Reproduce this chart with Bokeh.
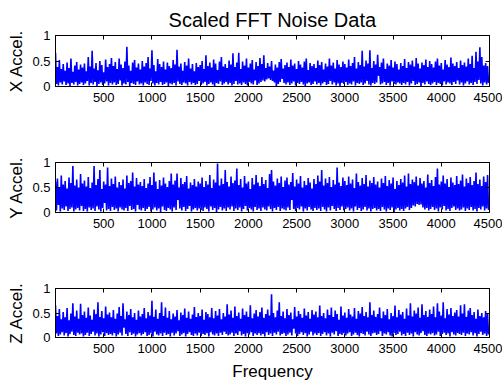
import numpy as np
from bokeh.plotting import figure
from bokeh.layouts import column
from bokeh.models import LinearAxis, FixedTicker, Range1d
from bokeh.embed import file_html
from bokeh.resources import INLINE

# Frequency bins (Hz): one peak/trough pair of the scaled FFT magnitude per 20 Hz bin
freq = np.arange(0, 4500, 20)

# X axis accelerometer: per-bin maximum and minimum of the scaled FFT magnitude
x_peak = [
    0.66, 0.38, 0.52, 0.34, 0.44, 0.31, 0.47, 0.36, 0.55, 0.29, 0.41, 0.48, 0.33, 0.43, 0.37,
    0.45, 0.30, 0.58, 0.39, 0.70, 0.35, 0.46, 0.32, 0.50, 0.42, 0.28, 0.53, 0.38, 0.44, 0.56,
    0.40, 0.48, 0.34, 0.55, 0.43, 0.36, 0.49, 0.78, 0.41, 0.31, 0.47, 0.52, 0.37, 0.45, 0.33,
    0.50, 0.39, 0.46, 0.58, 0.35, 0.71, 0.42, 0.30, 0.54, 0.44, 0.38, 0.49, 0.33, 0.47, 0.40,
    0.36, 0.52, 0.43, 0.72, 0.39, 0.45, 0.31, 0.48, 0.41, 0.55, 0.35, 0.44, 0.30, 0.46, 0.38,
    0.42, 0.50, 0.34, 0.61, 0.40, 0.47, 0.37, 0.53, 0.45, 0.32, 0.49, 0.58, 0.39, 0.44, 0.36,
    0.51, 0.43, 0.65, 0.38, 0.47, 0.66, 0.34, 0.49, 0.41, 0.55, 0.37, 0.45, 0.52, 0.33, 0.48,
    0.40, 0.56, 0.44, 0.61, 0.36, 0.46, 0.39, 0.50, 0.31, 0.43, 0.37, 0.48, 0.54, 0.35, 0.42,
    0.47, 0.38, 0.53, 0.41, 0.45, 0.34, 0.50, 0.43, 0.37, 0.49, 0.55, 0.32, 0.46, 0.40, 0.44,
    0.36, 0.51, 0.42, 0.48, 0.33, 0.45, 0.39, 0.55, 0.41, 0.47, 0.35, 0.52, 0.43, 0.38, 0.49,
    0.44, 0.37, 0.53, 0.40, 0.46, 0.58, 0.35, 0.48, 0.42, 0.70, 0.39, 0.51, 0.45, 0.71, 0.36,
    0.50, 0.43, 0.62, 0.38, 0.47, 0.55, 0.34, 0.45, 0.41, 0.52, 0.37, 0.49, 0.44, 0.33, 0.46,
    0.40, 0.54, 0.36, 0.48, 0.43, 0.51, 0.39, 0.56, 0.45, 0.35, 0.47, 0.42, 0.53, 0.38, 0.50,
    0.44, 0.37, 0.49, 0.55, 0.41, 0.46, 0.33, 0.52, 0.43, 0.38, 0.57, 0.45, 0.40, 0.48, 0.36,
    0.51, 0.42, 0.47, 0.39, 0.55, 0.44, 0.60, 0.36, 0.68, 0.49, 0.77, 0.58, 0.41, 0.46, 0.40,
]
x_trough = [
    0.05, 0.02, 0.08, 0.04, 0.10, 0.03, 0.06, 0.01, 0.07, 0.04, 0.09, 0.02, 0.05, 0.08, 0.03,
    0.06, 0.11, 0.02, 0.07, 0.04, 0.09, 0.01, 0.05, 0.08, 0.03, 0.06, 0.10, 0.02, 0.07, 0.04,
    0.08, 0.03, 0.05, 0.12, 0.02, 0.06, 0.04, 0.09, 0.01, 0.07, 0.05, 0.03, 0.10, 0.04, 0.06,
    0.02, 0.08, 0.05, 0.03, 0.11, 0.06, 0.02, 0.07, 0.04, 0.09, 0.03, 0.05, 0.08, 0.01, 0.06,
    0.04, 0.07, 0.02, 0.10, 0.05, 0.03, 0.08, 0.06, 0.02, 0.09, 0.04, 0.07, 0.03, 0.05, 0.11,
    0.03, 0.06, 0.09, 0.02, 0.05, 0.08, 0.04, 0.01, 0.07, 0.05, 0.10, 0.03, 0.06, 0.09, 0.04,
    0.07, 0.02, 0.05, 0.11, 0.04, 0.06, 0.03, 0.08, 0.05, 0.02, 0.09, 0.06, 0.04, 0.12, 0.03,
    0.06, 0.09, 0.12, 0.10, 0.14, 0.16, 0.13, 0.11, 0.08, 0.00, 0.05, 0.09, 0.15, 0.07, 0.04,
    0.08, 0.03, 0.06, 0.10, 0.02, 0.07, 0.05, 0.09, 0.04, 0.01, 0.06, 0.08, 0.03, 0.05, 0.10,
    0.04, 0.07, 0.02, 0.06, 0.09, 0.03, 0.05, 0.11, 0.04, 0.08, 0.02, 0.06, 0.01, 0.07, 0.05,
    0.09, 0.03, 0.06, 0.04, 0.10, 0.02, 0.07, 0.05, 0.08, 0.03, 0.06, 0.11, 0.04, 0.02, 0.07,
    0.05, 0.08, 0.21, 0.04, 0.06, 0.09, 0.03, 0.07, 0.02, 0.10, 0.05, 0.04, 0.08, 0.06, 0.03,
    0.07, 0.04, 0.09, 0.02, 0.06, 0.11, 0.03, 0.05, 0.08, 0.01, 0.07, 0.04, 0.10, 0.05, 0.03,
    0.06, 0.09, 0.03, 0.07, 0.05, 0.02, 0.10, 0.04, 0.08, 0.06, 0.03, 0.09, 0.05, 0.12, 0.04,
    0.08, 0.02, 0.06, 0.10, 0.04, 0.07, 0.03, 0.09, 0.05, 0.13, 0.06, 0.02, 0.08, 0.04, 0.07,
]

# Y axis accelerometer
y_peak = [
    0.62, 0.68, 0.51, 0.74, 0.56, 0.63, 0.48, 0.70, 0.59, 0.93, 0.54, 0.66, 0.50, 0.77, 0.58,
    0.64, 0.52, 0.71, 0.49, 0.60, 0.93, 0.55, 0.67, 0.85, 0.47, 0.62, 0.56, 0.90, 0.53, 0.68,
    0.57, 0.72, 0.50, 0.61, 0.55, 0.66, 0.48, 0.74, 0.59, 0.63, 0.80, 0.52, 0.69, 0.56, 0.61,
    0.53, 0.67, 0.49, 0.58, 0.71, 0.55, 0.80, 0.62, 0.47, 0.65, 0.54, 0.70, 0.58, 0.51, 0.63,
    0.78, 0.56, 0.64, 0.78, 0.50, 0.69, 0.57, 0.61, 0.73, 0.48, 0.60, 0.55, 0.67, 0.52, 0.62,
    0.58, 0.70, 0.51, 0.63, 0.56, 0.75, 0.49, 0.66, 0.60, 0.98, 0.54, 0.68, 0.57, 0.85, 0.61,
    0.52, 0.72, 0.59, 0.64, 0.88, 0.55, 0.67, 0.50, 0.73, 0.58, 0.62, 0.47, 0.69, 0.56, 0.75,
    0.60, 0.53, 0.71, 0.57, 0.65, 0.49, 0.77, 0.85, 0.62, 0.54, 0.68, 0.59, 0.72, 0.51, 0.64,
    0.70, 0.56, 0.61, 0.79, 0.52, 0.66, 0.58, 0.73, 0.50, 0.63, 0.55, 0.69, 0.60, 0.48, 0.67,
    0.57, 0.74, 0.62, 0.85, 0.54, 0.68, 0.59, 0.71, 0.51, 0.65, 0.56, 0.90, 0.60, 0.53, 0.70,
    0.63, 0.55, 0.72, 0.58, 0.66, 0.49, 0.78, 0.61, 0.54, 0.69, 0.57, 0.75, 0.52, 0.64, 0.59,
    0.71, 0.56, 0.62, 0.50, 0.68, 0.59, 0.73, 0.53, 0.65, 0.58, 0.70, 0.47, 0.63, 0.55, 0.67,
    0.60, 0.74, 0.52, 0.78, 0.57, 0.66, 0.61, 0.72, 0.54, 0.69, 0.58, 0.63, 0.50, 0.76, 0.59,
    0.65, 0.53, 0.71, 0.88, 0.56, 0.62, 0.74, 0.58, 0.67, 0.51, 0.70, 0.60, 0.55, 0.73, 0.57,
    0.64, 0.76, 0.52, 0.68, 0.59, 0.71, 0.55, 0.63, 0.80, 0.57, 0.66, 0.53, 0.72, 0.61, 0.75,
]
y_trough = [
    0.04, 0.15, 0.02, 0.08, 0.05, 0.12, 0.03, 0.07, 0.10, 0.02, 0.06, 0.09, 0.04, 0.13, 0.03,
    0.07, 0.02, 0.10, 0.05, 0.08, 0.03, 0.12, 0.06, 0.02, 0.09, 0.19, 0.04, 0.07, 0.03, 0.11,
    0.05, 0.08, 0.02, 0.10, 0.06, 0.04, 0.09, 0.03, 0.13, 0.05, 0.07, 0.02, 0.15, 0.06, 0.04,
    0.09, 0.03, 0.07, 0.11, 0.02, 0.06, 0.10, 0.04, 0.08, 0.01, 0.12, 0.05, 0.03, 0.09, 0.06,
    0.02, 0.10, 0.05, 0.25, 0.08, 0.04, 0.11, 0.03, 0.07, 0.13, 0.02, 0.06, 0.09, 0.04, 0.08,
    0.05, 0.03, 0.10, 0.07, 0.02, 0.12, 0.05, 0.09, 0.00, 0.06, 0.11, 0.04, 0.08, 0.03, 0.10,
    0.06, 0.12, 0.03, 0.08, 0.05, 0.10, 0.02, 0.07, 0.13, 0.04, 0.09, 0.06, 0.02, 0.11, 0.05,
    0.08, 0.03, 0.10, 0.06, 0.04, 0.12, 0.07, 0.02, 0.09, 0.05, 0.11, 0.03, 0.08, 0.06, 0.04,
    0.10, 0.05, 0.25, 0.07, 0.03, 0.09, 0.06, 0.12, 0.02, 0.08, 0.04, 0.11, 0.06, 0.03, 0.09,
    0.05, 0.08, 0.03, 0.11, 0.06, 0.02, 0.10, 0.04, 0.13, 0.07, 0.03, 0.09, 0.05, 0.12, 0.04,
    0.07, 0.10, 0.04, 0.08, 0.02, 0.12, 0.05, 0.09, 0.03, 0.06, 0.11, 0.04, 0.08, 0.02, 0.07,
    0.09, 0.04, 0.07, 0.03, 0.11, 0.06, 0.02, 0.08, 0.05, 0.10, 0.00, 0.06, 0.09, 0.04, 0.07,
    0.03, 0.08, 0.11, 0.05, 0.09, 0.14, 0.12, 0.17, 0.15, 0.16, 0.10, 0.06, 0.09, 0.04, 0.07,
    0.11, 0.05, 0.08, 0.02, 0.10, 0.06, 0.13, 0.04, 0.07, 0.03, 0.09, 0.12, 0.05, 0.08, 0.04,
    0.06, 0.10, 0.03, 0.08, 0.05, 0.11, 0.04, 0.07, 0.02, 0.09, 0.06, 0.12, 0.04, 0.08, 0.05,
]

# Z axis accelerometer
z_peak = [
    0.65, 0.44, 0.58, 0.37, 0.52, 0.41, 0.60, 0.35, 0.49, 0.70, 0.43, 0.55, 0.38, 0.69, 0.46,
    0.53, 0.40, 0.61, 0.45, 0.36, 0.57, 0.48, 0.72, 0.42, 0.54, 0.39, 0.63, 0.47, 0.51, 0.41,
    0.56, 0.38, 0.49, 0.62, 0.44, 0.70, 0.37, 0.53, 0.46, 0.58, 0.41, 0.50, 0.36, 0.55, 0.43,
    0.48, 0.60, 0.39, 0.52, 0.45, 0.75, 0.42, 0.57, 0.38, 0.50, 0.72, 0.44, 0.61, 0.40, 0.54,
    0.37, 0.49, 0.43, 0.56, 0.35, 0.51, 0.46, 0.59, 0.40, 0.53, 0.38, 0.47, 0.62, 0.42, 0.50,
    0.44, 0.57, 0.36, 0.52, 0.48, 0.41, 0.60, 0.39, 0.54, 0.45, 0.58, 0.37, 0.50, 0.43, 0.68,
    0.47, 0.55, 0.40, 0.63, 0.44, 0.51, 0.38, 0.59, 0.46, 0.53, 0.42, 0.66, 0.39, 0.49, 0.56,
    0.43, 0.52, 0.61, 0.40, 0.48, 0.57, 0.45, 0.88, 0.50, 0.41, 0.55, 0.72, 0.44, 0.53, 0.39,
    0.58, 0.46, 0.51, 0.37, 0.62, 0.43, 0.54, 0.48, 0.40, 0.59, 0.45, 0.52, 0.38, 0.56, 0.47,
    0.53, 0.41, 0.65, 0.44, 0.50, 0.39, 0.57, 0.46, 0.61, 0.42, 0.55, 0.48, 0.36, 0.63, 0.45,
    0.51, 0.40, 0.58, 0.47, 0.43, 0.60, 0.38, 0.54, 0.49, 0.62, 0.44, 0.52, 0.41, 0.72, 0.46,
    0.55, 0.42, 0.48, 0.61, 0.39, 0.53, 0.46, 0.58, 0.37, 0.50, 0.44, 0.65, 0.41, 0.56, 0.47,
    0.52, 0.38, 0.59, 0.45, 0.70, 0.43, 0.55, 0.49, 0.61, 0.40, 0.68, 0.46, 0.54, 0.42, 0.57,
    0.48, 0.63, 0.41, 0.70, 0.53, 0.45, 0.72, 0.39, 0.58, 0.47, 0.60, 0.44, 0.51, 0.56, 0.43,
    0.66, 0.49, 0.68, 0.42, 0.55, 0.60, 0.46, 0.52, 0.38, 0.57, 0.44, 0.50, 0.41, 0.54, 0.48,
]
z_trough = [
    0.08, 0.03, 0.06, 0.11, 0.04, 0.09, 0.02, 0.07, 0.12, 0.05, 0.03, 0.10, 0.06, 0.08, 0.02,
    0.05, 0.10, 0.03, 0.07, 0.12, 0.04, 0.08, 0.02, 0.06, 0.11, 0.03, 0.09, 0.05, 0.07, 0.04,
    0.09, 0.02, 0.06, 0.10, 0.04, 0.20, 0.07, 0.03, 0.11, 0.05, 0.08, 0.02, 0.06, 0.09, 0.04,
    0.07, 0.11, 0.03, 0.05, 0.09, 0.02, 0.12, 0.06, 0.04, 0.08, 0.03, 0.10, 0.05, 0.07, 0.02,
    0.10, 0.04, 0.08, 0.13, 0.03, 0.06, 0.09, 0.02, 0.07, 0.11, 0.05, 0.03, 0.08, 0.04, 0.10,
    0.03, 0.07, 0.05, 0.09, 0.02, 0.11, 0.06, 0.04, 0.08, 0.03, 0.10, 0.05, 0.12, 0.07, 0.04,
    0.06, 0.10, 0.03, 0.08, 0.05, 0.13, 0.04, 0.07, 0.02, 0.09, 0.06, 0.11, 0.03, 0.08, 0.05,
    0.09, 0.04, 0.07, 0.02, 0.11, 0.05, 0.08, 0.03, 0.10, 0.06, 0.12, 0.04, 0.07, 0.09, 0.03,
    0.06, 0.10, 0.04, 0.18, 0.08, 0.03, 0.07, 0.11, 0.05, 0.09, 0.02, 0.06, 0.12, 0.04, 0.08,
    0.05, 0.09, 0.03, 0.07, 0.11, 0.04, 0.08, 0.02, 0.10, 0.06, 0.13, 0.03, 0.07, 0.05, 0.09,
    0.04, 0.08, 0.11, 0.03, 0.06, 0.10, 0.05, 0.02, 0.09, 0.07, 0.04, 0.12, 0.06, 0.03, 0.08,
    0.10, 0.05, 0.07, 0.13, 0.03, 0.08, 0.06, 0.11, 0.04, 0.02, 0.09, 0.05, 0.07, 0.12, 0.04,
    0.07, 0.03, 0.10, 0.05, 0.08, 0.02, 0.11, 0.06, 0.04, 0.09, 0.13, 0.05, 0.03, 0.08, 0.06,
    0.09, 0.04, 0.06, 0.12, 0.03, 0.07, 0.10, 0.05, 0.08, 0.02, 0.11, 0.06, 0.04, 0.09, 0.07,
    0.05, 0.10, 0.03, 0.08, 0.06, 0.11, 0.04, 0.09, 0.02, 0.07, 0.12, 0.05, 0.08, 0.03, 0.06,
]

x_ticks = [500, 1000, 1500, 2000, 2500, 3000, 3500, 4000, 4500]
y_ticks = [0, 0.5, 1]
y_tick_labels = {0: "0", 0.5: "0.5", 1: "1"}

FONT = "Liberation Sans"
BLUE = "#0000ff"


def style_axis(ax, ticks, labels=True, overrides=None):
    ax.ticker = FixedTicker(ticks=ticks)
    ax.major_tick_in = 4
    ax.major_tick_out = 0
    ax.minor_tick_line_color = None
    ax.axis_line_color = "black"
    ax.major_tick_line_color = "black"
    ax.major_label_text_font = FONT
    if labels:
        ax.major_label_text_color = "black"
        ax.major_label_text_font_size = "13px"
        ax.major_label_standoff = 5
        if overrides:
            ax.major_label_overrides = overrides
    else:
        # box ticks only: the opposite axes carry no labels
        ax.major_label_text_color = None
        ax.major_label_standoff = 0


def set_label(ax, text, standoff):
    ax.axis_label = text
    ax.axis_label_text_font = FONT
    ax.axis_label_text_font_size = "17px"
    ax.axis_label_text_font_style = "normal"
    ax.axis_label_text_color = "black"
    ax.axis_label_standoff = standoff


def panel(peak, trough, ylabel, height, top, bottom, title=None, xlabel=None):
    p = figure(width=502, height=height, output_backend="svg", toolbar_location=None,
               x_range=Range1d(0, 4500), y_range=Range1d(0, 1),
               min_border_left=55, min_border_right=13,
               min_border_top=top, min_border_bottom=bottom)
    p.background_fill_color = "white"
    p.border_fill_color = "white"
    p.outline_line_color = "black"
    p.grid.visible = False

    # zig-zag between the per-bin peak and trough traces the dense FFT band
    xs = np.column_stack([freq, freq + 10]).ravel()
    ys = np.column_stack([peak, trough]).ravel()
    p.line(xs, ys, line_color=BLUE, line_width=1.6, line_join="miter")

    style_axis(p.xaxis[0], x_ticks)
    style_axis(p.yaxis[0], y_ticks, overrides=y_tick_labels)
    p.xaxis[0].major_label_standoff = 6

    set_label(p.yaxis[0], ylabel, 3)
    if xlabel:
        set_label(p.xaxis[0], xlabel, 6)

    top_ax = LinearAxis()
    style_axis(top_ax, x_ticks, labels=False)
    p.add_layout(top_ax, "above")
    right_ax = LinearAxis()
    style_axis(right_ax, y_ticks, labels=False)
    p.add_layout(right_ax, "right")

    if title:
        p.title.text = title
        p.title.align = "center"
        p.title.text_font = FONT
        p.title.text_font_size = "20px"
        p.title.text_font_style = "normal"
        p.title.text_color = "black"
    return p


p1 = panel(x_peak, x_trough, "X Accel.", 127, 35, 41, title="Scaled FFT Noise Data")
p2 = panel(y_peak, y_trough, "Y Accel.", 127, 35, 42)
p3 = panel(z_peak, z_trough, "Z Accel.", 129, 34, 46, xlabel="Frequency")

layout = column(p1, p2, p3, spacing=0)
open("out.html", "w").write(file_html(layout, INLINE))
